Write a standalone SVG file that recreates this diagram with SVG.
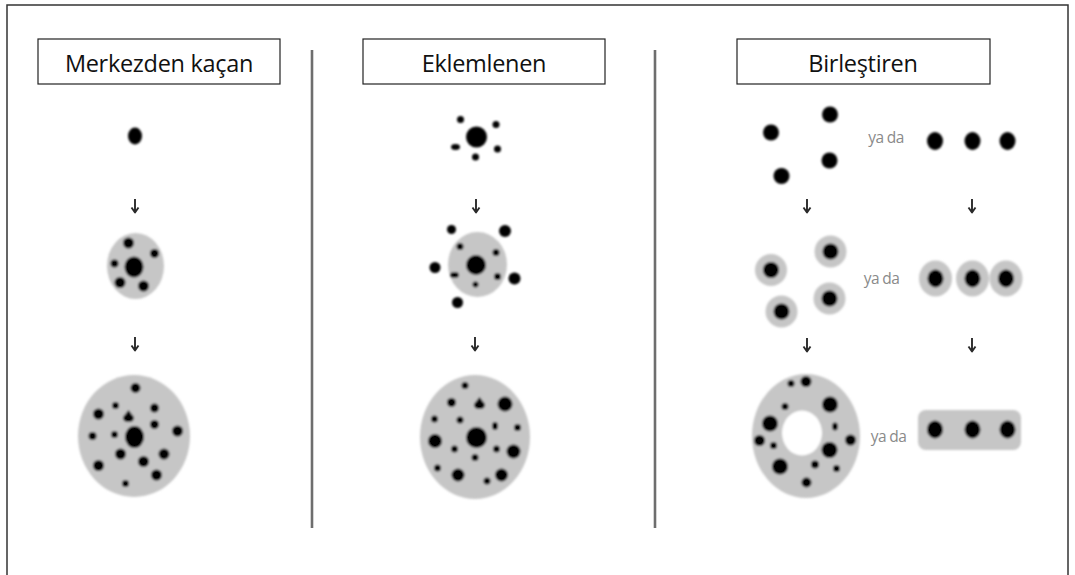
<svg xmlns="http://www.w3.org/2000/svg" width="1075" height="575" viewBox="0 0 1075 575">
  <defs>
    <filter id="soft" x="-10%" y="-10%" width="120%" height="120%">
      <feGaussianBlur stdDeviation="0.8"/>
    </filter>
    <symbol id="down" overflow="visible">
      <path d="M0,-7 V6 M-3.5,1.5 L0,6.5 L3.5,1.5" fill="none" stroke="#2a2a2a" stroke-width="1.9" stroke-linejoin="round"/>
    </symbol>
  </defs>
  <style>
    .frame { fill: none; stroke: #333; stroke-width: 1.5; }
    .divider { stroke: #6e6e6e; stroke-width: 2.6; }
    .title-box { fill: #fff; stroke: #222; stroke-width: 1.2; }
    .title { font-family: "Open Sans", "Liberation Sans", sans-serif; font-size: 23.5px; fill: #111; text-anchor: middle; letter-spacing: -0.3px; }
    .or { font-family: "Open Sans", "Liberation Sans", sans-serif; font-size: 15.5px; fill: #8a8a8a; text-anchor: middle; letter-spacing: -0.6px; }
    .matrix { fill: #c6c6c6; }
    .hole { fill: #fff; }
    .p { fill: #000; }
    .fig { filter: url(#soft); }
  </style>

  <rect width="1075" height="575" fill="#fff"/>
  <rect class="frame" x="7" y="5" width="1061" height="580"/>

  <!-- column dividers -->
  <line class="divider" x1="312" y1="50" x2="312" y2="528"/>
  <line class="divider" x1="655" y1="50" x2="655" y2="528"/>

  <!-- column headings -->
  <g id="title-merkezden">
    <rect class="title-box" x="38" y="39" width="242" height="45"/>
    <text class="title" x="159" y="72">Merkezden kaçan</text>
  </g>
  <g id="title-eklemlenen">
    <rect class="title-box" x="363" y="39" width="242" height="45"/>
    <text class="title" x="484" y="72">Eklemlenen</text>
  </g>
  <g id="title-birlestiren">
    <rect class="title-box" x="737" y="39" width="253" height="45"/>
    <text class="title" x="863" y="72">Birleştiren</text>
  </g>

  <!-- column 1: centrifugal growth -->
  <g id="m1" class="fig">
    <ellipse class="p" cx="135" cy="136" rx="7" ry="8.5"/>
  </g>
  <g id="m2" class="fig">
    <ellipse class="matrix" cx="135.5" cy="266" rx="28.5" ry="33"/>
    <ellipse class="p" cx="134" cy="267" rx="9.5" ry="10.5"/>
    <circle class="p" cx="128.5" cy="243" r="5.5"/>
    <circle class="p" cx="154.5" cy="253.5" r="4.5"/>
    <circle class="p" cx="114.5" cy="263.5" r="4"/>
    <circle class="p" cx="120" cy="282.5" r="5.5"/>
    <circle class="p" cx="143.5" cy="286" r="5.5"/>
  </g>
  <g id="m3" class="fig">
    <ellipse class="matrix" cx="134" cy="436" rx="56" ry="61"/>
    <ellipse class="p" cx="134.5" cy="437" rx="9.5" ry="11"/>
    <circle class="p" cx="135.5" cy="388" r="5"/>
    <circle class="p" cx="115.5" cy="405.5" r="3.5"/>
    <circle class="p" cx="98.5" cy="414" r="5.5"/>
    <path class="p" d="M128.5,410 Q130,412 134,417 Q134.5,422 128.5,422 Q122.5,422 123,417 Q127,412 128.5,410 Z"/>
    <circle class="p" cx="154.5" cy="408" r="4.5"/>
    <circle class="p" cx="154.5" cy="424.5" r="4.5"/>
    <circle class="p" cx="177.5" cy="431" r="5.5"/>
    <circle class="p" cx="92.5" cy="436" r="4"/>
    <circle class="p" cx="114.5" cy="434.5" r="3.5"/>
    <circle class="p" cx="120.5" cy="454" r="5.5"/>
    <circle class="p" cx="143.5" cy="461.5" r="5.5"/>
    <circle class="p" cx="164" cy="454" r="5.5"/>
    <circle class="p" cx="98.5" cy="465.5" r="5.5"/>
    <circle class="p" cx="156.5" cy="475" r="5.5"/>
    <circle class="p" cx="125.5" cy="483.5" r="3.5"/>
  </g>

  <!-- column 2: accretionary growth -->
  <g id="e1" class="fig">
    <circle class="p" cx="476.5" cy="137" r="10.5"/>
    <circle class="p" cx="460.5" cy="119.5" r="3.5"/>
    <circle class="p" cx="496" cy="124.5" r="3.5"/>
    <ellipse class="p" cx="455.5" cy="147" rx="4.5" ry="3"/>
    <circle class="p" cx="497.5" cy="149" r="3.5"/>
    <circle class="p" cx="475.5" cy="157" r="3.5"/>
  </g>
  <g id="e2" class="fig">
    <ellipse class="matrix" cx="477.5" cy="264.5" rx="29.5" ry="32.5"/>
    <circle class="p" cx="476" cy="265" r="10"/>
    <circle class="p" cx="460" cy="246.5" r="3.5"/>
    <circle class="p" cx="496" cy="252.5" r="3.5"/>
    <ellipse class="p" cx="454.5" cy="275" rx="4.5" ry="3"/>
    <circle class="p" cx="497.5" cy="276.5" r="3.5"/>
    <circle class="p" cx="475.5" cy="284.5" r="3"/>
    <circle class="p" cx="451.5" cy="229.5" r="4.5"/>
    <circle class="p" cx="505" cy="231" r="6"/>
    <circle class="p" cx="435" cy="267.5" r="5.5"/>
    <circle class="p" cx="514.5" cy="278.5" r="6"/>
    <circle class="p" cx="457.5" cy="302.5" r="5.5"/>
  </g>
  <g id="e3" class="fig">
    <ellipse class="matrix" cx="475" cy="437" rx="55" ry="62"/>
    <circle class="p" cx="476.5" cy="437.5" r="10.5"/>
    <circle class="p" cx="465" cy="385.5" r="3.5"/>
    <circle class="p" cx="451.5" cy="402.5" r="4.5"/>
    <path class="p" d="M479.5,397 Q481,399 485,404 Q485.5,409 479.5,409 Q473.5,409 474,404 Q478,399 479.5,397 Z"/>
    <circle class="p" cx="505" cy="404" r="7.5"/>
    <circle class="p" cx="434.5" cy="419" r="3.5"/>
    <circle class="p" cx="460" cy="420" r="3.5"/>
    <ellipse class="p" cx="495" cy="426" rx="3" ry="4"/>
    <circle class="p" cx="517.5" cy="427.5" r="3.5"/>
    <circle class="p" cx="435" cy="441" r="7"/>
    <circle class="p" cx="454.5" cy="449" r="3.5"/>
    <circle class="p" cx="496.5" cy="449" r="3.5"/>
    <circle class="p" cx="513.5" cy="451.5" r="7"/>
    <circle class="p" cx="475" cy="457.5" r="3.5"/>
    <circle class="p" cx="437.5" cy="468" r="3.5"/>
    <circle class="p" cx="458" cy="475" r="6.5"/>
    <circle class="p" cx="501.5" cy="475" r="6.5"/>
    <circle class="p" cx="487" cy="481" r="3.5"/>
  </g>

  <!-- column 3: coalescing growth -->
  <g id="b1a" class="fig">
    <circle class="p" cx="771" cy="132.5" r="8"/>
    <circle class="p" cx="830" cy="114.5" r="8"/>
    <circle class="p" cx="829.5" cy="160.5" r="8"/>
    <circle class="p" cx="781.5" cy="176" r="8"/>
  </g>
  <text class="or" x="886" y="143">ya da</text>
  <g id="b1b" class="fig">
    <ellipse class="p" cx="935" cy="141" rx="8" ry="9"/>
    <ellipse class="p" cx="972.5" cy="141" rx="8" ry="9"/>
    <ellipse class="p" cx="1007.5" cy="141" rx="8" ry="9"/>
  </g>

  <g id="b2a" class="fig">
    <circle class="matrix" cx="771" cy="270" r="16"/>
    <circle class="p" cx="771" cy="270" r="8"/>
    <circle class="matrix" cx="830.5" cy="251.5" r="16"/>
    <circle class="p" cx="830.5" cy="251.5" r="8"/>
    <circle class="matrix" cx="829.5" cy="298.5" r="16"/>
    <circle class="p" cx="829.5" cy="298.5" r="8"/>
    <circle class="matrix" cx="781.5" cy="311.5" r="16"/>
    <circle class="p" cx="781.5" cy="311.5" r="8"/>
  </g>
  <text class="or" x="881.5" y="283.5">ya da</text>
  <g id="b2b" class="fig">
    <ellipse class="matrix" cx="935.5" cy="278.5" rx="16.5" ry="18"/>
    <ellipse class="p" cx="935.5" cy="278.5" rx="8" ry="9"/>
    <ellipse class="matrix" cx="972.5" cy="278.5" rx="16.5" ry="18"/>
    <ellipse class="p" cx="972.5" cy="278.5" rx="8" ry="9"/>
    <ellipse class="matrix" cx="1006" cy="278.5" rx="16.5" ry="18"/>
    <ellipse class="p" cx="1006" cy="278.5" rx="8" ry="9"/>
  </g>

  <g id="b3a" class="fig">
    <ellipse class="matrix" cx="806" cy="436" rx="54" ry="62"/>
    <ellipse class="hole" cx="802" cy="433" rx="20" ry="22.5"/>
    <circle class="p" cx="791" cy="383.5" r="3.5"/>
    <circle class="p" cx="806" cy="381.5" r="5.5"/>
    <circle class="p" cx="830" cy="404.5" r="8"/>
    <circle class="p" cx="785" cy="406.5" r="3.5"/>
    <circle class="p" cx="770" cy="423.5" r="8"/>
    <ellipse class="p" cx="835" cy="426.5" rx="3" ry="4"/>
    <circle class="p" cx="759.5" cy="440.5" r="5.5"/>
    <circle class="p" cx="773.5" cy="445.5" r="3.5"/>
    <circle class="p" cx="829.5" cy="450" r="8"/>
    <circle class="p" cx="850.5" cy="440" r="5.5"/>
    <circle class="p" cx="780" cy="466.5" r="8"/>
    <circle class="p" cx="815" cy="464.5" r="4"/>
    <circle class="p" cx="836.5" cy="468.5" r="3.5"/>
    <circle class="p" cx="806.5" cy="482.5" r="5"/>
  </g>
  <text class="or" x="888.5" y="442">ya da</text>
  <g id="b3b" class="fig">
    <rect class="matrix" x="918" y="410" width="103" height="40" rx="8"/>
    <ellipse class="p" cx="935" cy="429.5" rx="8" ry="9"/>
    <ellipse class="p" cx="972.5" cy="429.5" rx="8" ry="9"/>
    <ellipse class="p" cx="1007.5" cy="429.5" rx="8" ry="9"/>
  </g>

  <!-- growth-stage arrows -->
  <g id="connectors">
    <use href="#down" x="135" y="206"/>
    <use href="#down" x="135" y="344"/>
    <use href="#down" x="476" y="206"/>
    <use href="#down" x="475" y="344"/>
    <use href="#down" x="807" y="206"/>
    <use href="#down" x="972" y="206"/>
    <use href="#down" x="807" y="345"/>
    <use href="#down" x="972" y="345"/>
  </g>
</svg>
